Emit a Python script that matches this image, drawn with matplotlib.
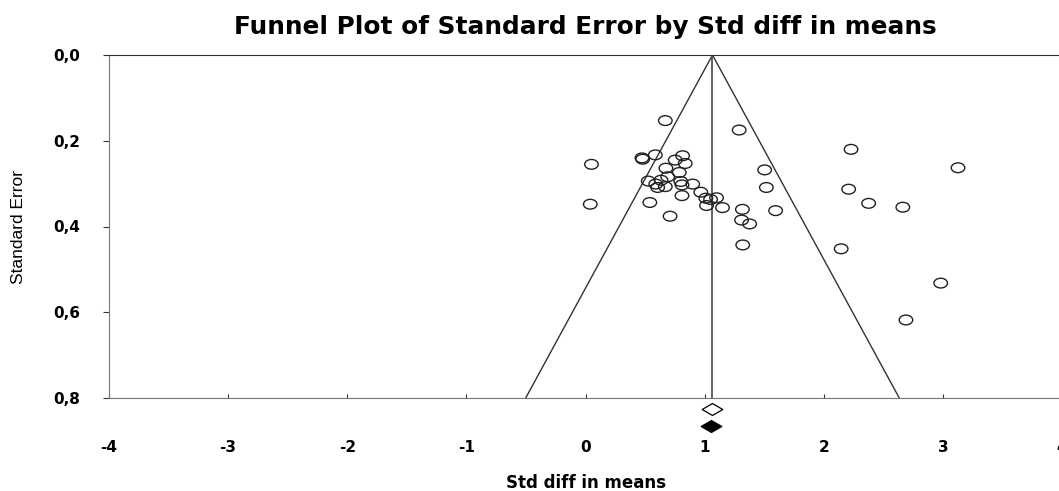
import matplotlib
matplotlib.use("Agg")
from matplotlib import pyplot as plt
from matplotlib.path import Path
from matplotlib.transforms import Affine2D
import numpy as np

# study effect sizes (Std diff in means) and their standard errors
effect_sizes = [
    0.67, 1.29, 0.05, 0.04, 0.474, 0.48, 0.586, 0.815, 0.753, 0.837,
    0.675, 0.787, 0.69, 0.527, 0.59, 0.634, 0.606, 0.67, 0.80, 0.81,
    0.90, 0.81, 0.54, 0.71, 0.968, 1.01, 1.05, 1.10, 1.016, 1.15,
    1.317, 1.31, 1.378, 1.32, 1.504, 1.518, 1.596, 2.229, 3.127, 2.209,
    2.377, 2.664, 2.146, 2.982, 2.69,
]
std_errors = [
    0.153, 0.175, 0.255, 0.348, 0.240, 0.243, 0.233, 0.235, 0.245, 0.253,
    0.264, 0.274, 0.284, 0.294, 0.301, 0.292, 0.309, 0.307, 0.295, 0.303,
    0.301, 0.328, 0.344, 0.376, 0.320, 0.334, 0.337, 0.333, 0.351, 0.356,
    0.360, 0.385, 0.394, 0.443, 0.268, 0.309, 0.363, 0.220, 0.263, 0.313,
    0.346, 0.355, 0.452, 0.532, 0.618,
]

# combined effect (observed / imputed diamonds)
pooled_effect = 1.066
diamond_x = [1.066, 1.055]
diamond_y = [0.826, 0.865]

x_ticks = [-4, -3, -2, -1, 0, 1, 2, 3, 4]
y_ticks = [0.0, 0.2, 0.4, 0.6, 0.8]
y_tick_labels = ["0,0", "0,2", "0,4", "0,6", "0,8"]

# ellipse and diamond markers
ellipse = Path.unit_circle().transformed(Affine2D().scale(1.0, 0.72))
diamond = Path([(-1, 0), (0, 0.58), (1, 0), (0, -0.58), (-1, 0)],
               [Path.MOVETO, Path.LINETO, Path.LINETO, Path.LINETO, Path.CLOSEPOLY])

fig = plt.figure(figsize=(10.59, 4.91), dpi=100)
ax = fig.add_axes([109 / 1059, 1 - 398 / 491, 953 / 1059, 343 / 491])

# funnel
se_max = 0.8
ax.plot([pooled_effect - 1.96 * se_max, pooled_effect, pooled_effect + 1.96 * se_max],
        [se_max, 0, se_max], color="#333333", lw=1.0)
ax.plot([pooled_effect, pooled_effect], [0, se_max], color="#555555", lw=1.3)

ax.scatter(effect_sizes, std_errors, marker=ellipse, s=95, facecolors="none",
           edgecolors="#222222", linewidths=1.0, zorder=3)

ax.scatter(diamond_x[:1], diamond_y[:1], marker=diamond, s=220, facecolors="white",
           edgecolors="black", linewidths=0.9, clip_on=False, zorder=4)
ax.scatter(diamond_x[1:], diamond_y[1:], marker=diamond, s=220, facecolors="black",
           edgecolors="black", linewidths=0.9, clip_on=False, zorder=4)

ax.set_xlim(-4, 4)
ax.set_ylim(0.8, 0.0)

for side in ["left", "bottom"]:
    ax.spines[side].set_color("#777777")
ax.spines["top"].set_color("#333333")
ax.spines["right"].set_visible(False)

ax.set_xticks(x_ticks)
ax.set_xticklabels([str(t) for t in x_ticks], fontweight="bold", fontsize=11,
                   family="DejaVu Sans")
ax.set_yticks(y_ticks)
ax.set_yticklabels(y_tick_labels, fontweight="bold", fontsize=11, family="DejaVu Sans")
ax.tick_params(axis="x", direction="in", length=3, pad=30, color="#333333")
ax.tick_params(axis="y", direction="out", length=4, pad=17, color="#333333")

ax.set_xlabel("Std diff in means", fontweight="bold", fontsize=12,
              family="DejaVu Sans", labelpad=14)
ax.set_ylabel("Standard Error", fontsize=12.5,
              family=["Liberation Sans Narrow", "Liberation Sans"], labelpad=19)
ax.set_title("Funnel Plot of Standard Error by Std diff in means", fontweight="bold",
             fontsize=17.8, family="DejaVu Sans", pad=15)

fig.savefig("out.png", dpi=100)
